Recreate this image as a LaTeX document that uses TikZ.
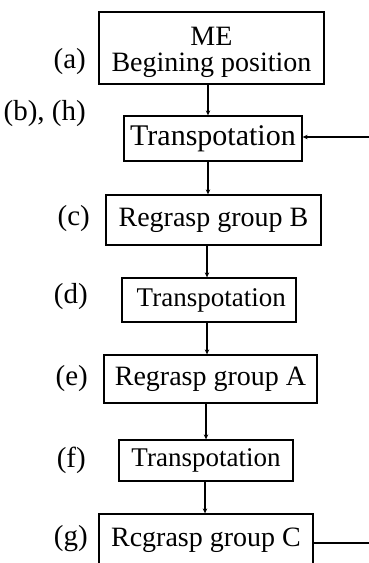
\documentclass[tikz,border=0pt]{standalone}
\usepackage{fontspec}
\setmainfont{Liberation Serif}
\usetikzlibrary{arrows.meta}
\begin{document}
\begin{tikzpicture}[x=1pt,y=-1pt,
  box/.style={draw,line width=1.3pt,inner sep=0pt,align=center,font=\fontsize{28}{28}\selectfont},
  lab/.style={anchor=east,inner sep=0pt,font=\fontsize{29}{29}\selectfont},
  conn/.style={line width=1.2pt,-{Stealth[length=5pt,width=4.5pt]}},
  plain/.style={line width=1.2pt}]
\useasboundingbox (0,0) rectangle (369,563);
\node[box,minimum width=225pt,minimum height=72pt,
  label={[inner sep=0pt,align=center,yshift=-4pt,font=\fontsize{28}{26}\selectfont]center:ME\\Begining position}] (a) at (211.5,48) {};
\node[box,minimum width=178pt,minimum height=45pt,font=\fontsize{30}{30}\selectfont] (b) at (213,138.5) {Transpotation};
\node[box,minimum width=215pt,minimum height=50pt] (c) at (213.5,220) {Regrasp group B};
\node[box,minimum width=174pt,minimum height=44pt,font=\fontsize{27}{27}\selectfont] (d) at (209,300) {\,Transpotation};
\node[box,minimum width=213pt,minimum height=48pt] (e) at (210.5,379) {Regrasp group A};
\node[box,minimum width=174pt,minimum height=41pt,font=\fontsize{27}{27}\selectfont] (f) at (206,460.5) {Transpotation};
\node[box,minimum width=214pt,minimum height=52pt] (g) at (206,540) {Rcgrasp group C};
\node[lab] (la) at (86,62) {(a)};
\node[lab] (lb) at (86,114) {(b), (h)};
\node[lab] (lc) at (90,219) {(c)};
\node[lab] (ld) at (88,297) {(d)};
\node[lab] (le) at (88,379) {(e)};
\node[lab] (lf) at (86,460) {(f)};
\node[lab] (lg) at (88,539) {(g)};
\coordinate (x1) at (208,0);
\coordinate (x2) at (208,0);
\coordinate (x3) at (207,0);
\coordinate (x4) at (207,0);
\coordinate (x5) at (206,0);
\coordinate (x6) at (205,0);
\draw[conn] (a.south -| x1) -- (b.north -| x1);
\draw[conn] (b.south -| x2) -- (c.north -| x2);
\draw[conn] (c.south -| x3) -- (d.north -| x3);
\draw[conn] (d.south -| x4) -- (e.north -| x4);
\draw[conn] (e.south -| x5) -- (f.north -| x5);
\draw[conn] (f.south -| x6) -- (g.north -| x6);
\coordinate (r1) at (369,543);
\coordinate (r2) at (369,137);
\draw[plain] (g.east |- r1) -- (r1);
\draw[conn] (r2) -- (b.east |- r2);
\end{tikzpicture}
\end{document}
